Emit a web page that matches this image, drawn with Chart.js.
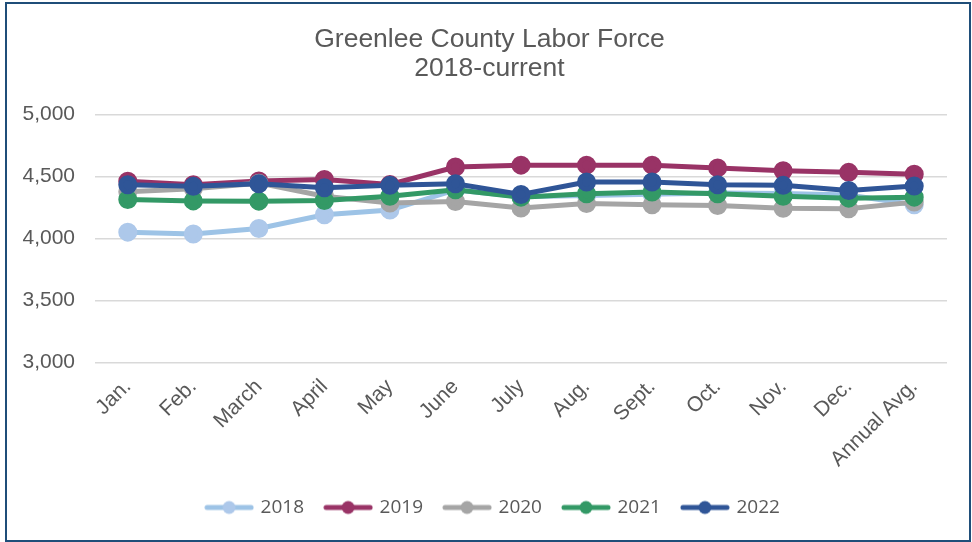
<!DOCTYPE html>
<html>
<head>
<meta charset="utf-8">
<script src="https://cdn.jsdelivr.net/npm/chart.js@4"></script>
<style>
  html, body { margin:0; padding:0; background:#fff; }
  #wrap { position:relative; width:972px; height:542px; }
  #frame { position:absolute; left:5px; top:2px; width:962px; height:536px; border:2px solid #1f4e79; pointer-events:none; }
  canvas { position:absolute; left:0; top:0; }
</style>
</head>
<body>
<div id="wrap">
  <canvas id="chartLabor" width="972" height="542"></canvas>
  <div id="frame"></div>
</div>
<script>
const months = ['Jan.','Feb.','March','April','May','June','July','Aug.','Sept.','Oct.','Nov.','Dec.','Annual Avg.'];

const y2018 = [4050, 4035, 4080, 4190, 4228, 4390, 4335, 4345, 4355, 4365, 4362, 4350, 4270];
const y2019 = [4460, 4432, 4462, 4475, 4435, 4575, 4590, 4590, 4590, 4568, 4545, 4532, 4516];
const y2020 = [4375, 4400, 4445, 4340, 4285, 4297, 4245, 4280, 4270, 4265, 4243, 4238, 4292];
const y2021 = [4313, 4302, 4300, 4305, 4340, 4391, 4332, 4359, 4373, 4359, 4340, 4324, 4332];
const y2022 = [4432, 4419, 4440, 4408, 4427, 4440, 4354, 4454, 4454, 4432, 4427, 4386, 4421];

const seriesNames = ['2018','2019','2020','2021','2022'];
const yTicks = [3000, 3500, 4000, 4500, 5000];

const colors = ['#9dc3e6','#993366','#a5a5a5','#339966','#2f5597'];
const markerFill = ['#adc8ea','#993366','#a5a5a5','#339966','#2f5597'];

function legendIcon(line, dot){
  const c = document.createElement('canvas');
  c.width = 50; c.height = 16;
  const g = c.getContext('2d');
  g.strokeStyle = line; g.lineWidth = 5; g.lineCap = 'round';
  g.beginPath(); g.moveTo(3, 8); g.lineTo(47, 8); g.stroke();
  g.fillStyle = dot;
  g.beginPath(); g.arc(25, 8, 6.5, 0, Math.PI*2); g.fill();
  return c;
}

const allValues = [y2018, y2019, y2020, y2021, y2022];
const icons = colors.map((c,i) => legendIcon(c, markerFill[i]));

const datasets = allValues.map((vals, i) => ({
  label: seriesNames[i],
  data: vals,
  borderColor: colors[i],
  backgroundColor: markerFill[i],
  pointBackgroundColor: markerFill[i],
  pointBorderColor: markerFill[i],
  borderWidth: 5,
  pointRadius: 7,
  pointHoverRadius: 7,
  tension: 0,
  order: 5 - i
}));

// title and legend sit centred on the whole frame, not on the chart area
const shiftBlocks = {
  id: 'shiftBlocks',
  afterLayout(chart){
    const t = chart.titleBlock, l = chart.legend;
    if (t){ t.left += 16; t.right += 16; }
    if (l){ l.left += 20; l.right += 20; }
  }
};

new Chart(document.getElementById('chartLabor'), {
  type: 'line',
  data: { labels: months, datasets },
  plugins: [shiftBlocks],
  options: {
    responsive: false,
    animation: false,
    layout: { padding: { left: 0, right: 25, top: 25, bottom: 15 } },
    plugins: {
      title: {
        display: true,
        text: ['Greenlee County Labor Force', '2018-current'],
        color: '#595959',
        font: { family: 'Liberation Sans, Arial', size: 26.5, weight: 'normal', lineHeight: 1.1 },
        padding: { top: 0, bottom: 31 }
      },
      legend: {
        position: 'bottom',
        labels: {
          color: '#595959',
          font: { family: 'Open Sans', size: 19 },
          usePointStyle: true,
          pointStyleWidth: 44,
          padding: 22,
          generateLabels: (chart) => chart.data.datasets.map((ds, i) => ({
            text: ds.label,
            pointStyle: icons[i],
            fontColor: '#595959',
            strokeStyle: 'transparent',
            fillStyle: 'transparent',
            lineWidth: 0,
            datasetIndex: i
          }))
        }
      },
      tooltip: { enabled: false }
    },
    scales: {
      x: {
        offset: true,
        grid: { display: false },
        border: { display: false },
        ticks: {
          color: '#595959',
          font: { family: 'Liberation Sans, Arial', size: 21 },
          maxRotation: 45,
          minRotation: 45,
          autoSkip: false,
          padding: 4
        }
      },
      y: {
        min: 3000,
        max: 5000,
        afterBuildTicks: (scale) => { scale.ticks = yTicks.map(v => ({ value: v })); },
        afterFit: (scale) => { scale.width = 95; },
        grid: { color: '#d9d9d9', lineWidth: 1.5, drawTicks: false },
        border: { display: false },
        ticks: {
          color: '#595959',
          font: { family: 'Liberation Sans, Arial', size: 21 },
          padding: 20,
          callback: (v) => v.toLocaleString('en-US')
        }
      }
    }
  }
});
</script>
</body>
</html>
